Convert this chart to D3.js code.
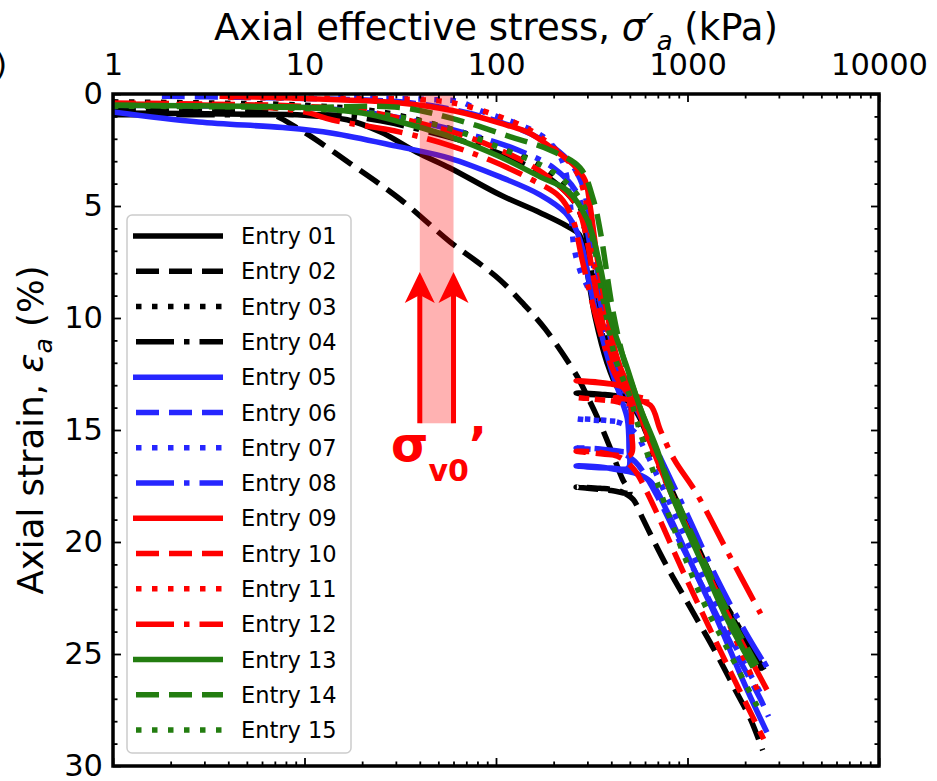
<!DOCTYPE html>
<html>
<head>
<meta charset="utf-8">
<script src="https://cdn.jsdelivr.net/npm/d3@7"></script>
<style>
  html, body { margin: 0; padding: 0; background: #fff; }
  svg { display: block; font-family: "DejaVu Sans", sans-serif; }
</style>
</head>
<body>
<svg id="chart" width="937" height="781"></svg>
<script>
// Oedometer curves: [axial effective stress (kPa), axial strain (%)]
const entry01 = [[1,0.85],[5,0.9],[10,0.95],[16.7,1.15],[25,1.7],[38.6,2.6],[57.5,3.3],[105,4.5],[170,5.3],[235,5.9],[273,6.3],[300,8.0],[330,10.0],[380,12.0],[430,13.1],[480,13.5],[400,13.45],[300,13.4],[262,13.35],[350,13.4],[450,13.55],[530,14.0],[600,15.0],[800,17.4],[1100,20.0],[1600,22.9],[2450,25.6]];
const entry02 = [[1,0.7],[3,0.72],[6.2,0.8],[9.5,1.6],[17.3,3.1],[31.6,4.7],[57.5,6.6],[80,7.5],[105,8.3],[140,9.4],[181,10.5],[265,12.6],[300,13.5],[337,14.4],[395,15.8],[458,17.2],[500,17.8],[400,17.7],[300,17.6],[262,17.55],[350,17.6],[450,17.75],[520,18.1],[580,18.9],[636,19.6],[782,21.1],[1030,22.9],[1410,24.96],[1800,26.7],[2130,27.9],[2470,29.3]];
const entry03 = [[1,0.35],[3,0.4],[10,0.5],[25,0.8],[50,1.4],[105,2.3],[170,3.2],[250,4.5],[290,5.6],[310,7.5],[340,9.8],[400,12.2],[460,13.5],[520,14.2],[600,15.3],[800,17.6],[1100,20.1],[1600,23.0],[2500,26.0]];
const entry04 = [[1,0.93],[5,0.93],[15,0.95],[25,1.2],[45,1.7],[80,2.3],[130,3.0],[200,3.9],[260,4.9],[290,6.0],[320,8.2],[360,10.3],[420,12.3],[480,13.5],[550,14.3],[650,15.5],[900,18.5],[1300,21.5],[1800,23.6],[2550,25.8]];
const entry05 = [[1,0.8],[2.8,1.25],[7.7,1.5],[14,1.75],[31,2.35],[57,2.86],[105,3.7],[170,4.5],[230,5.3],[260,6.0],[285,7.0],[310,8.6],[350,10.5],[400,12.3],[450,13.6],[485,14.5],[495,15.8],[490,16.7],[400,16.7],[300,16.65],[262,16.6],[350,16.65],[450,16.8],[540,16.95],[640,17.3],[800,18.8],[1000,20.6],[1400,23.3],[2000,26.4],[2600,28.5]];
const entry06 = [[1.8,0.1],[4.6,0.15],[10,0.2],[31.6,0.35],[60,0.7],[105,1.25],[170,2.0],[235,2.9],[275,3.8],[300,5.0],[325,7.0],[360,9.3],[410,11.4],[460,12.9],[500,13.7],[508,14.8],[500,15.9],[400,15.9],[300,15.85],[262,15.8],[350,15.85],[450,16.0],[530,16.4],[600,17.0],[700,18.0],[900,19.9],[1200,22.0],[1700,24.6],[2400,27.0],[2650,27.8]];
const entry07 = [[15,0.15],[30,0.2],[47,0.25],[65,0.35],[83,0.75],[105,1.05],[140,1.45],[176,1.9],[210,2.6],[230,3.4],[245,5.0],[255,6.8],[275,7.9],[300,8.6],[337,9.6],[362,10.4],[400,11.7],[450,12.9],[490,13.7],[500,14.1],[490,14.6],[400,14.6],[300,14.55],[262,14.5],[350,14.55],[450,14.7],[530,15.1],[600,15.9],[800,18.2],[1100,20.8],[1600,23.9],[2500,27.0]];
const entry08 = [[1,0.5],[5,0.55],[10,0.6],[20,0.8],[40,1.25],[80,1.9],[130,2.5],[200,3.3],[260,4.3],[290,5.5],[320,7.5],[360,9.8],[420,12.0],[480,13.3],[560,14.3],[700,16.0],[1000,18.8],[1400,21.5],[2000,24.0],[2600,25.6],[2450,25.2]];
const entry09 = [[3.6,0.1],[10,0.2],[31.6,0.4],[60,0.75],[105,1.3],[150,1.75],[191,2.35],[260,3.25],[292,3.85],[310,5.0],[340,7.5],[380,9.8],[430,11.8],[480,12.8],[500,13.0],[400,12.95],[300,12.85],[262,12.8],[330,12.85],[430,13.0],[510,13.3],[560,14.2],[640,15.6],[800,17.6],[1035,19.7],[1400,22.1],[1900,24.4],[2600,26.6]];
const entry10 = [[1,0.4],[3,0.45],[10,0.55],[20,0.75],[40,1.3],[70,1.9],[105,2.5],[160,3.3],[220,4.2],[265,5.0],[290,6.0],[320,8.0],[360,10.2],[420,12.2],[480,13.3],[505,13.8],[510,15.0],[505,16.1],[400,16.1],[300,16.0],[262,15.95],[350,16.0],[450,16.25],[530,16.8],[600,17.6],[700,18.8],[900,20.9],[1200,23.2],[1700,25.9],[2500,28.8]];
const entry11 = [[4,0.15],[15,0.2],[40,0.25],[60,0.4],[100,0.95],[150,1.6],[200,2.4],[260,3.4],[290,4.5],[310,6.2],[340,8.5],[390,10.8],[450,12.6],[500,13.6],[510,13.8],[400,13.7],[300,13.6],[262,13.55],[350,13.65],[450,13.8],[530,14.2],[600,15.2],[800,17.6],[1100,20.2],[1600,23.4],[2400,26.9]];
const entry12 = [[1,0.45],[5,0.55],[10,0.8],[14,1.16],[31.6,1.7],[57.5,2.3],[93,2.95],[155,3.84],[216,4.6],[252,5.6],[280,7.3],[320,9.4],[370,11.3],[430,12.7],[500,13.4],[600,13.6],[640,13.75],[500,13.65],[420,13.55],[520,13.65],[640,13.9],[721,15.0],[850,16.3],[1110,17.8],[1680,20.7],[2410,23.2]];
const entry13 = [[1,0.5],[5,0.55],[10,0.6],[20,0.85],[31.6,1.25],[57.5,1.9],[105,2.8],[170,3.7],[235,4.3],[299,5.6],[350,7.7],[395,10.0],[483,12.2],[566,14.0],[696,15.9],[810,17.7],[1200,21.0],[1600,23.4],[2200,25.6]];
const entry14 = [[1,0.5],[3,0.55],[10,0.6],[31.6,0.6],[59.5,1.1],[118,1.9],[191,2.5],[275,3.3],[322,4.7],[350,6.1],[410,9.8],[470,12.0],[530,13.3],[600,14.6],[800,17.3],[1100,20.0],[1600,23.0],[2300,25.5]];
const entry15 = [[1,0.55],[10,0.65],[30,1.0],[60,1.6],[105,2.4],[200,3.5],[280,4.8],[320,6.5],[360,9.0],[420,11.8],[500,13.5],[566,15.1],[840,19.3],[1200,22.6],[1600,24.7],[2400,27.6]];

const entryLabels = ["Entry 01","Entry 02","Entry 03","Entry 04","Entry 05","Entry 06","Entry 07","Entry 08",
                     "Entry 09","Entry 10","Entry 11","Entry 12","Entry 13","Entry 14","Entry 15"];
const entryColors = ["black","black","black","black","blue","blue","blue","blue",
                     "red","red","red","red","green","green","green"];
const entryStyles = ["solid","dashed","dotted","dashdot","solid","dashed","dotted","dashdot",
                     "solid","dashed","dotted","dashdot","solid","dashed","dotted"];
const entrySeries = [entry01,entry02,entry03,entry04,entry05,entry06,entry07,entry08,
                     entry09,entry10,entry11,entry12,entry13,entry14,entry15];

const stressMajorTicks = [1, 10, 100, 1000, 10000];
const strainMajorTicks = [0, 5, 10, 15, 20, 25, 30];
const inSituStressRange = [40, 60];   // kPa, shaded band
const bandStrainDepth = 14.7;         // %, lower end of the shaded band
const arrowTipStrain = 7.95;          // %, arrow heads

// ---- layout ----
const svg = d3.select("#chart");
const x = d3.scaleLog().domain([1, 10000]).range([113, 879]);
const y = d3.scaleLinear().domain([0, 30]).range([94, 766]);
const plotW = 879 - 113, plotH = 766 - 94;

const palette = { black: "#000000", blue: "#2626ff", red: "#ff0000", green: "#237d10" };
const LW = 5.5;
const dashes = { solid: null, dashed: [23, 10], dotted: [5.5, 10.5], dashdot: [38, 10, 5.5, 10] };

svg.append("defs").append("clipPath").attr("id", "plotClip")
  .append("rect").attr("x", 113).attr("y", 94).attr("width", plotW).attr("height", plotH);

const line = d3.line()
  .x(d => x(d[0])).y(d => y(d[1]))
  .curve(d3.curveCatmullRom.alpha(0.5));

const curves = svg.append("g").attr("clip-path", "url(#plotClip)");
entrySeries.forEach((series, i) => {
  curves.append("path")
    .datum(series)
    .attr("d", line)
    .attr("fill", "none")
    .attr("stroke", palette[entryColors[i]])
    .attr("stroke-width", LW)
    .attr("stroke-linejoin", "round")
    .attr("stroke-linecap", "butt")
    .attr("stroke-dasharray", dashes[entryStyles[i]] ? dashes[entryStyles[i]].join(",") : null);
});

// ---- shaded in-situ stress band and arrows ----
svg.append("rect")
  .attr("x", x(inSituStressRange[0]))
  .attr("y", y(0))
  .attr("width", x(inSituStressRange[1]) - x(inSituStressRange[0]))
  .attr("height", y(bandStrainDepth) - y(0))
  .attr("fill", "#ff0000").attr("fill-opacity", 0.3);

const arrows = svg.append("g");
inSituStressRange.forEach(s => {
  const cx = x(s), tip = y(arrowTipStrain);
  arrows.append("line")
    .attr("x1", cx).attr("x2", cx)
    .attr("y1", y(bandStrainDepth)).attr("y2", tip + 20)
    .attr("stroke", "#ff0000").attr("stroke-width", 5);
  arrows.append("path")
    .attr("d", `M${cx},${tip} L${cx + 15},${tip + 31} L${cx},${tip + 23} L${cx - 15},${tip + 31} Z`)
    .attr("fill", "#ff0000");
});

const ann = svg.append("text")
  .attr("x", 391).attr("y", 461)
  .attr("fill", "#ff0000")
  .attr("font-weight", "bold")
  .attr("font-size", 48);
ann.append("tspan").text("σ");
ann.append("tspan").attr("font-size", 30).attr("dy", 20).text("v0");
ann.append("tspan").attr("dy", -20).text("’");

// ---- axes ----
const minorStress = [];
for (let p = 0; p < 4; p++) for (let m = 2; m <= 9; m++) minorStress.push(m * Math.pow(10, p));
const minorStrain = d3.range(0, 31).filter(v => v % 5 !== 0);

function styleAxis(g) {
  g.select(".domain").remove();
  g.selectAll(".tick line").attr("stroke", "#000").attr("stroke-width", 1.8);
  g.selectAll(".tick text").attr("font-family", "DejaVu Sans").attr("font-size", 30.5).attr("fill", "#000");
}

svg.append("g").attr("transform", `translate(0,${y(0)})`)
  .call(d3.axisTop(x).tickValues(stressMajorTicks).tickFormat(d3.format("d")).tickSizeInner(-8).tickSizeOuter(0).tickPadding(19))
  .call(styleAxis);
svg.append("g").attr("transform", `translate(0,${y(0)})`)
  .call(d3.axisTop(x).tickValues(minorStress).tickFormat("").tickSizeInner(-4.5).tickSizeOuter(0))
  .call(styleAxis);
svg.append("g").attr("transform", `translate(0,${y(30)})`)
  .call(d3.axisBottom(x).tickValues(stressMajorTicks).tickFormat("").tickSizeInner(-8).tickSizeOuter(0))
  .call(styleAxis);
svg.append("g").attr("transform", `translate(0,${y(30)})`)
  .call(d3.axisBottom(x).tickValues(minorStress).tickFormat("").tickSizeInner(-4.5).tickSizeOuter(0))
  .call(styleAxis);

svg.append("g").attr("transform", `translate(${x(1)},0)`)
  .call(d3.axisLeft(y).tickValues(strainMajorTicks).tickFormat(d3.format("d")).tickSizeInner(-8).tickSizeOuter(0).tickPadding(10))
  .call(styleAxis);
svg.append("g").attr("transform", `translate(${x(1)},0)`)
  .call(d3.axisLeft(y).tickValues(minorStrain).tickFormat("").tickSizeInner(-4.5).tickSizeOuter(0))
  .call(styleAxis);
svg.append("g").attr("transform", `translate(${x(10000)},0)`)
  .call(d3.axisRight(y).tickValues(strainMajorTicks).tickFormat("").tickSizeInner(-8).tickSizeOuter(0))
  .call(styleAxis);
svg.append("g").attr("transform", `translate(${x(10000)},0)`)
  .call(d3.axisRight(y).tickValues(minorStrain).tickFormat("").tickSizeInner(-4.5).tickSizeOuter(0))
  .call(styleAxis);

svg.append("rect")
  .attr("x", x(1)).attr("y", y(0)).attr("width", plotW).attr("height", plotH)
  .attr("fill", "none").attr("stroke", "#000").attr("stroke-width", 3.5);

// axis titles
const xTitle = svg.append("text")
  .attr("x", (x(1) + x(10000)) / 2).attr("y", 40)
  .attr("text-anchor", "middle").attr("font-size", 37).attr("fill", "#000");
xTitle.append("tspan").text("Axial effective stress, ");
xTitle.append("tspan").attr("font-style", "italic").text("σ′");
xTitle.append("tspan").attr("font-style", "italic").attr("font-size", 26).attr("dx", 3).attr("dy", 10).text("a");
xTitle.append("tspan").attr("dy", -10).text(" (kPa)");

const yTitle = svg.append("text")
  .attr("transform", `translate(43,${(y(0) + y(30)) / 2}) rotate(-90)`)
  .attr("text-anchor", "middle").attr("font-size", 35.5).attr("fill", "#000");
yTitle.append("tspan").text("Axial strain, ");
yTitle.append("tspan").attr("font-style", "italic").text("ε");
yTitle.append("tspan").attr("font-style", "italic").attr("font-size", 25).attr("dy", 9).text("a");
yTitle.append("tspan").attr("dy", -9).text(" (%)");

// panel tag at the figure's left edge
svg.append("text").attr("x", 7).attr("y", 75).attr("text-anchor", "end")
  .attr("font-size", 31).attr("fill", "#000").text("(a)");

// ---- legend ----
const legend = svg.append("g");
legend.append("rect")
  .attr("x", 127).attr("y", 215).attr("width", 224).attr("height", 538)
  .attr("rx", 5).attr("ry", 5)
  .attr("fill", "#fff").attr("fill-opacity", 0.8)
  .attr("stroke", "#cccccc").attr("stroke-width", 1.5);
const rowY = d3.scaleLinear().domain([0, 14]).range([236, 730]);
entryLabels.forEach((label, i) => {
  const cy = rowY(i);
  legend.append("line")
    .attr("x1", 133).attr("x2", 223).attr("y1", cy).attr("y2", cy)
    .attr("stroke", palette[entryColors[i]])
    .attr("stroke-width", LW)
    .attr("stroke-dasharray", dashes[entryStyles[i]] ? dashes[entryStyles[i]].join(",") : null)
    .attr("stroke-dashoffset", entryStyles[i] === "solid" ? null : -3);
  legend.append("text")
    .attr("x", 241).attr("y", cy).attr("dy", "0.36em")
    .attr("font-size", 22.5).attr("fill", "#000").text(label);
});
</script>
</body>
</html>
